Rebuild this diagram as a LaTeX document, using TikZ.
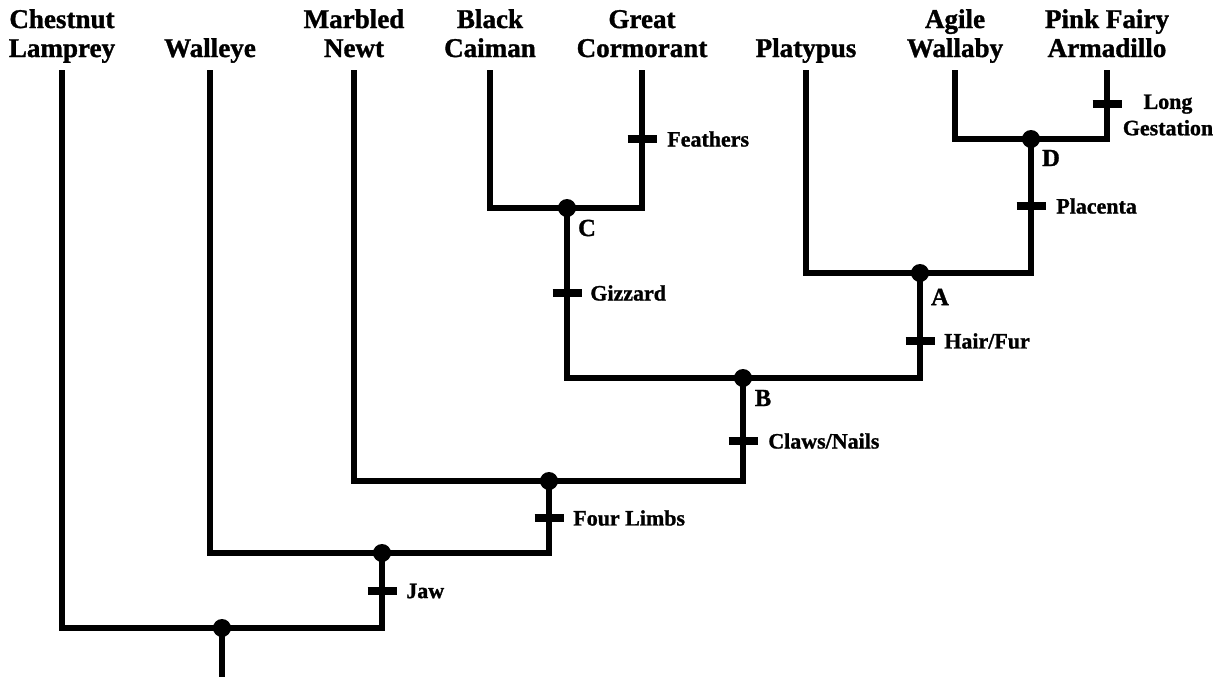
\documentclass[tikz,border=0pt]{standalone}
\usepackage{fontspec}
\setmainfont{Liberation Serif}[BoldFeatures={FakeBold=1.2}]
\begin{document}
\begin{tikzpicture}[x=0.02cm,y=-0.02cm,
  branch/.style={line width=3.8pt, line join=miter},
  taxon/.style={font=\bfseries\fontsize{15.4}{16.5}\selectfont, align=center, anchor=base, inner sep=0pt},
  trait/.style={font=\bfseries\fontsize{12.5}{15}\selectfont, anchor=west, inner sep=0pt},
  letter/.style={font=\bfseries\fontsize{14}{16}\selectfont, inner sep=0pt},
  dot/.style={circle, fill=black, minimum size=0.36cm, inner sep=0pt},
  tickmark/.style={line width=4pt}]
\useasboundingbox (0,0) rectangle (1225,677);
% tips
\coordinate (t1) at (62,70);
\coordinate (t2) at (210,70);
\coordinate (t3) at (354,70);
\coordinate (t4) at (490,70);
\coordinate (t5) at (642,70);
\coordinate (t6) at (806,70);
\coordinate (t7) at (955,70);
\coordinate (t8) at (1107,70);
% taxon labels (anchor = baseline of last line)
\node[taxon] (n1) at (62,57) {Chestnut\\Lamprey};
\node[taxon] (n2) at (210,57) {Walleye};
\node[taxon] (n3) at (354,57) {Marbled\\Newt};
\node[taxon] (n4) at (490,57) {Black\\Caiman};
\node[taxon] (n5) at (642,57) {Great\\Cormorant};
\node[taxon] (n6) at (806,57) {Platypus};
\node[taxon] (n7) at (955,57) {Agile\\Wallaby};
\node[taxon] (n8) at (1107,57) {Pink Fairy\\Armadillo};
% internal nodes
\coordinate (root) at (222,628);
\coordinate (rootbase) at (222,677);
\coordinate (jawn) at (382,553);
\coordinate (limbn) at (549,481);
\coordinate (B) at (743,378);
\coordinate (C) at (567,208);
\coordinate (A) at (920,273);
\coordinate (D) at (1031,139);
% branches
\draw[branch] (t1) |- (root) -| (jawn);
\draw[branch] (root) -- (rootbase);
\draw[branch] (t2) |- (jawn) -| (limbn);
\draw[branch] (t3) |- (limbn) -| (B);
\draw[branch] (C) |- (B) -| (A);
\draw[branch] (t4) |- (C) -| (t5);
\draw[branch] (t6) |- (A) -| (D);
\draw[branch] (t7) |- (D) -| (t8);
% dots
\foreach \p in {root,jawn,limbn,B,C,A,D} \node[dot] at (\p) {};
% letters
\node[letter] (lC) at (587,228) {C};
\node[letter] (lB) at (763,398) {B};
\node[letter] (lA) at (940,297) {A};
\node[letter] (lD) at (1051,158) {D};
% ticks
\coordinate (kF) at (642,139);
\coordinate (kL) at (1107,104);
\coordinate (kP) at (1031,206);
\coordinate (kG) at (567,293);
\coordinate (kH) at (920,341);
\coordinate (kC) at (743,441);
\coordinate (kFL) at (549,518);
\coordinate (kJ) at (382,591);
\foreach \k in {kF,kL,kP,kG,kH,kC,kFL,kJ} \draw[tickmark] (\k) +(-14.5,0) -- +(14.5,0);
\node[trait] (lF) at (667,139) {Feathers};
\node[trait, anchor=center, align=center] (lL) at (1168,115) {Long\\Gestation};
\node[trait] (lP) at (1056,206) {Placenta};
\node[trait] (lG) at (590,293) {Gizzard};
\node[trait] (lH) at (944,341) {Hair/Fur};
\node[trait] (lCl) at (768,441) {Claws/Nails};
\node[trait] (lFL) at (573,518) {Four Limbs};
\node[trait] (lJ) at (406,591) {Jaw};
\end{tikzpicture}
\end{document}
